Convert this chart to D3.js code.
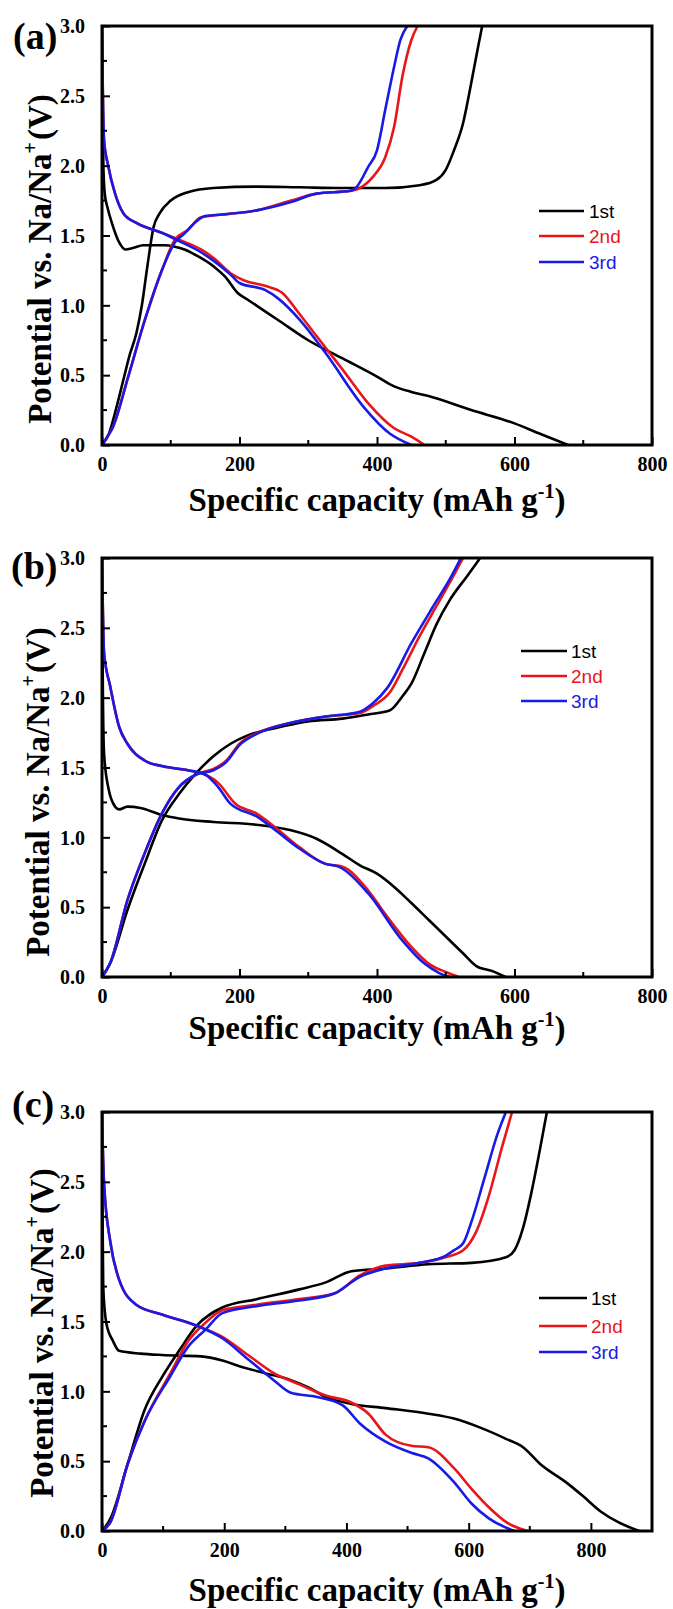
<!DOCTYPE html>
<html><head><meta charset="utf-8">
<script src="https://cdn.jsdelivr.net/npm/d3@7"></script>
<style>body{margin:0;background:#fff}svg{display:block}</style>
</head><body>
<svg id="c" width="673" height="1609"></svg>
<script>
// ---------- DATA (capacity mAh/g, potential V) ----------
const cycles = ["1st", "2nd", "3rd"];
const colors = ["#000000", "#e8161b", "#1a1ae6"];
const yTicks = [0.0, 0.5, 1.0, 1.5, 2.0, 2.5, 3.0];
const xTicksAB = [0, 200, 400, 600, 800];
const xTicksC = [0, 200, 400, 600, 800];

// Panel (a)
const a1Dis = [[0,3.0],[1,2.4],[2,2.0],[4,1.8],[8,1.7],[15,1.58],[25,1.45],[34,1.40],[45,1.41],[60,1.43],[90,1.43],[106,1.42],[120,1.40],[140,1.35],[162,1.28],[180,1.20],[197,1.09],[212,1.04],[256,0.895],[300,0.75],[350,0.62],[400,0.49],[425,0.42],[450,0.38],[475,0.35],[537,0.25],[600,0.155],[637,0.08],[678,0.0]];
const a1Chg = [[0,0.0],[10,0.08],[20,0.25],[31,0.465],[40,0.64],[50,0.80],[58,1.0],[66,1.28],[75,1.56],[84,1.66],[100,1.75],[125,1.81],[162,1.84],[225,1.85],[287,1.845],[350,1.84],[412,1.84],[462,1.86],[487,1.90],[500,1.97],[512,2.11],[525,2.30],[537,2.59],[547,2.85],[553,3.0]];
const a2Dis = [[0,3.0],[1,2.6],[3,2.18],[9,2.0],[19,1.80],[31,1.66],[50,1.59],[87,1.52],[112,1.47],[144,1.40],[162,1.34],[187,1.23],[206,1.18],[237,1.14],[262,1.09],[287,0.94],[312,0.78],[350,0.54],[387,0.30],[425,0.12],[450,0.06],[469,0.0]];
const a2Chg = [[0,0.0],[8,0.06],[16,0.13],[37,0.47],[62,0.89],[87,1.25],[106,1.47],[125,1.54],[144,1.63],[175,1.65],[225,1.68],[275,1.75],[312,1.80],[362,1.82],[375,1.84],[394,1.92],[412,2.06],[425,2.28],[437,2.64],[450,2.9],[459,3.0]];
const a3Dis = [[0,3.0],[1,2.6],[3,2.18],[9,2.0],[19,1.80],[31,1.66],[50,1.59],[87,1.52],[112,1.46],[144,1.38],[162,1.32],[187,1.22],[200,1.16],[237,1.11],[256,1.05],[287,0.90],[325,0.66],[381,0.27],[419,0.08],[450,0.0]];
const a3Chg = [[0,0.0],[8,0.06],[16,0.13],[37,0.47],[62,0.89],[87,1.25],[106,1.45],[119,1.51],[137,1.60],[150,1.64],[175,1.65],[225,1.68],[275,1.74],[312,1.80],[362,1.82],[369,1.84],[387,1.99],[400,2.11],[412,2.40],[425,2.71],[434,2.90],[444,3.0]];

// Panel (b)
const b1Dis = [[0,3.0],[1,2.2],[3,1.60],[9,1.36],[19,1.22],[25,1.20],[37,1.22],[56,1.21],[87,1.16],[112,1.135],[162,1.11],[225,1.09],[275,1.05],[312,0.99],[350,0.88],[375,0.80],[400,0.74],[425,0.645],[450,0.53],[475,0.41],[500,0.29],[525,0.17],[544,0.08],[569,0.04],[587,0.0]];
const b1Chg = [[0,0.0],[12,0.1],[37,0.48],[62,0.81],[87,1.12],[112,1.31],[137,1.46],[162,1.58],[187,1.67],[212,1.73],[250,1.78],[300,1.83],[350,1.85],[387,1.88],[419,1.91],[437,2.01],[450,2.10],[469,2.32],[487,2.53],[506,2.70],[531,2.87],[550,3.0]];
const b2Dis = [[0,3.0],[1,2.7],[3,2.32],[12,2.08],[25,1.79],[37,1.67],[62,1.55],[87,1.51],[125,1.48],[144,1.46],[169,1.39],[194,1.24],[225,1.17],[250,1.08],[287,0.93],[325,0.81],[350,0.79],[387,0.62],[412,0.45],[450,0.215],[475,0.096],[500,0.036],[519,0.0]];
const b2Chg = [[0,0.0],[12,0.1],[37,0.55],[62,0.885],[87,1.17],[112,1.36],[137,1.45],[162,1.49],[181,1.55],[200,1.67],[225,1.745],[275,1.82],[325,1.865],[375,1.89],[394,1.94],[419,2.04],[437,2.20],[462,2.44],[487,2.66],[512,2.88],[525,3.0]];
const b3Dis = [[0,3.0],[1,2.7],[3,2.32],[12,2.08],[25,1.79],[37,1.67],[62,1.55],[87,1.51],[125,1.48],[150,1.45],[169,1.36],[187,1.24],[225,1.15],[250,1.06],[287,0.92],[325,0.81],[344,0.79],[387,0.60],[437,0.26],[469,0.096],[490,0.03],[506,0.0]];
const b3Chg = [[0,0.0],[12,0.1],[37,0.55],[62,0.885],[87,1.17],[112,1.36],[137,1.45],[162,1.48],[181,1.54],[200,1.66],[225,1.74],[275,1.82],[325,1.865],[375,1.90],[394,1.96],[415,2.07],[450,2.39],[480,2.64],[506,2.85],[522,3.0]];

// Panel (c)
const c1Dis = [[0,3.0],[1,2.2],[2,1.75],[7,1.49],[18,1.36],[28,1.29],[63,1.27],[98,1.26],[162,1.25],[197,1.22],[225,1.18],[267,1.13],[309,1.08],[337,1.03],[366,0.96],[408,0.91],[464,0.88],[534,0.84],[576,0.805],[619,0.74],[661,0.66],[689,0.60],[717,0.48],[759,0.35],[787,0.25],[816,0.14],[844,0.065],[879,0.0]];
const c1Chg = [[0,0.0],[14,0.09],[42,0.48],[70,0.87],[98,1.10],[126,1.29],[155,1.47],[197,1.60],[253,1.66],[323,1.73],[366,1.78],[408,1.86],[464,1.88],[534,1.91],[605,1.92],[661,1.96],[675,2.01],[689,2.17],[703,2.43],[717,2.74],[728,3.0]];
const c2Dis = [[0,3.0],[1,2.8],[3.5,2.48],[14,2.06],[28,1.80],[56,1.62],[98,1.55],[155,1.47],[197,1.39],[239,1.26],[281,1.13],[323,1.05],[366,0.97],[408,0.92],[436,0.84],[464,0.69],[506,0.61],[534,0.60],[576,0.45],[605,0.30],[633,0.17],[661,0.065],[696,0.0]];
const c2Chg = [[0,0.0],[14,0.065],[42,0.48],[70,0.79],[112,1.13],[141,1.36],[169,1.49],[197,1.58],[253,1.62],[323,1.66],[380,1.70],[422,1.83],[464,1.90],[520,1.92],[562,1.96],[591,2.01],[612,2.14],[633,2.40],[654,2.74],[671,3.0]];
const c3Dis = [[0,3.0],[1,2.8],[3.5,2.48],[14,2.06],[28,1.80],[56,1.62],[98,1.55],[155,1.47],[197,1.38],[239,1.23],[281,1.08],[309,0.99],[352,0.96],[394,0.90],[422,0.77],[464,0.64],[506,0.56],[534,0.52],[576,0.35],[605,0.195],[633,0.09],[675,0.0]];
const c3Chg = [[0,0.0],[14,0.065],[42,0.48],[70,0.79],[112,1.11],[141,1.32],[169,1.44],[197,1.56],[253,1.61],[323,1.65],[380,1.70],[422,1.82],[464,1.88],[520,1.92],[562,1.97],[576,2.01],[591,2.06],[605,2.22],[626,2.53],[647,2.84],[661,3.0]];

const panels = [
  {label:"(a)", xMax:800, xTicks:xTicksAB, series:[[a1Dis,a1Chg],[a2Dis,a2Chg],[a3Dis,a3Chg]],
   top:26, lab:[13,49], yl:[39,259], xlY:511, leg:{x1:539,x2:584,tx:589,y:[211,236,262]}},
  {label:"(b)", xMax:800, xTicks:xTicksAB, series:[[b1Dis,b1Chg],[b2Dis,b2Chg],[b3Dis,b3Chg]],
   top:558, lab:[11,579], yl:[37,792], xlY:1039, leg:{x1:521,x2:567,tx:571,y:[651,676,701]}},
  {label:"(c)", xMax:900, xTicks:xTicksC, series:[[c1Dis,c1Chg],[c2Dis,c2Chg],[c3Dis,c3Chg]],
   top:1112, lab:[12,1117], yl:[41,1333], xlY:1601, leg:{x1:539,x2:587,tx:591,y:[1298,1326,1352]}}
];

const svg = d3.select("#c");
const L = 102, W = 550, H = 419;
const serif = "'Liberation Serif','Times New Roman',serif";
const sans = "'Liberation Sans',Arial,sans-serif";

panels.forEach((p, pi) => {
  const x = d3.scaleLinear().domain([0, p.xMax]).range([L, L + W]);
  const y = d3.scaleLinear().domain([0, 3]).range([p.top + H, p.top]);
  const g = svg.append("g");
  const cid = "clip" + pi;
  g.append("clipPath").attr("id", cid).append("rect")
    .attr("x", L).attr("y", p.top - 1).attr("width", W).attr("height", H + 2);

  const line = d3.line().x(d => x(d[0])).y(d => y(d[1])).curve(d3.curveMonotoneX);
  const cg = g.append("g").attr("clip-path", `url(#${cid})`);
  p.series.forEach((pair, si) => {
    pair.forEach(data => {
      cg.append("path").datum(data).attr("d", line)
        .attr("fill", "none").attr("stroke", colors[si]).attr("stroke-width", 2.6)
        .attr("stroke-linejoin", "round");
    });
  });

  const minorX = d3.range(100, p.xMax, 200);
  const xAx = d3.axisBottom(x).tickValues(p.xTicks).tickSize(-8).tickFormat(d3.format("d")).tickPadding(12);
  const xg = g.append("g").attr("transform", `translate(0,${p.top + H})`).call(xAx);
  xg.append("g").selectAll("line").data(minorX).join("line")
    .attr("x1", d => x(d)).attr("x2", d => x(d)).attr("y1", 0).attr("y2", -5)
    .attr("stroke", "#000").attr("stroke-width", 2);
  const yAx = d3.axisLeft(y).tickValues(yTicks).tickSize(-8).tickFormat(d3.format(".1f")).tickPadding(17);
  const yg = g.append("g").attr("transform", `translate(${L},0)`).call(yAx);
  yg.append("g").selectAll("line").data(d3.range(0.25, 3, 0.5)).join("line")
    .attr("x1", 0).attr("x2", 5).attr("y1", d => y(d)).attr("y2", d => y(d))
    .attr("stroke", "#000").attr("stroke-width", 2);
  [xg, yg].forEach(a => {
    a.select(".domain").remove();
    a.selectAll(".tick line").attr("stroke", "#000").attr("stroke-width", 2);
    a.selectAll(".tick text").attr("fill", "#000").style("font-family", serif)
      .style("font-weight", "bold").style("font-size", "20px");
  });
  yg.selectAll(".tick text").attr("dy", "0.34em");
  xg.selectAll(".tick text").attr("dy", "0.72em");

  g.append("rect").attr("x", L).attr("y", p.top).attr("width", W).attr("height", H)
    .attr("fill", "none").attr("stroke", "#000").attr("stroke-width", 3);

  g.append("text").attr("x", p.lab[0]).attr("y", p.lab[1]).text(p.label)
    .style("font-family", serif).style("font-weight", "bold").style("font-size", "38px");

  const xt = g.append("text").attr("x", L + W / 2).attr("y", p.xlY).attr("text-anchor", "middle")
    .style("font-family", serif).style("font-weight", "bold").style("font-size", "33px");
  xt.append("tspan").text("Specific capacity (mAh g");
  xt.append("tspan").text("-1").attr("dy", "-13").style("font-size", "20px");
  xt.append("tspan").text(")").attr("dy", "13");

  const yt = g.append("text").attr("transform", `translate(${p.yl[0]},${p.yl[1]}) rotate(-90)`)
    .attr("text-anchor", "middle").attr("dy", "0.36em")
    .style("font-family", serif).style("font-weight", "bold").style("font-size", "33px");
  yt.append("tspan").text("Potential vs. Na/Na");
  yt.append("tspan").text("+").attr("dy", "-14").style("font-size", "20px");
  yt.append("tspan").text("(V)").attr("dy", "14").attr("dx", "2");

  cycles.forEach((c, i) => {
    g.append("line").attr("x1", p.leg.x1).attr("x2", p.leg.x2)
      .attr("y1", p.leg.y[i]).attr("y2", p.leg.y[i])
      .attr("stroke", colors[i]).attr("stroke-width", 2.6);
    g.append("text").attr("x", p.leg.tx).attr("y", p.leg.y[i]).attr("dy", "0.36em")
      .attr("fill", colors[i]).text(c)
      .style("font-family", sans).style("font-size", "19px");
  });
});
</script>
</body></html>
